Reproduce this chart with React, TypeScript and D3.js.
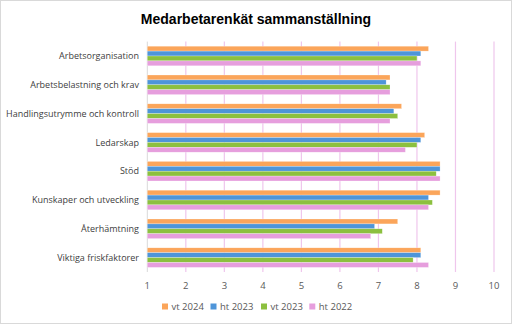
import React from "react";
import * as d3 from "d3";

const categories = [
  "Arbetsorganisation",
  "Arbetsbelastning och krav",
  "Handlingsutrymme och kontroll",
  "Ledarskap",
  "Stöd",
  "Kunskaper och utveckling",
  "Återhämtning",
  "Viktiga friskfaktorer",
];
const seriesNames = ["vt 2024", "ht 2023", "vt 2023", "ht 2022"];
const vt2024 = [8.3, 7.3, 7.6, 8.2, 8.6, 8.6, 7.5, 8.1];
const ht2023 = [8.1, 7.2, 7.4, 8.1, 8.6, 8.3, 6.9, 8.1];
const vt2023 = [8.0, 7.3, 7.5, 8.0, 8.5, 8.4, 7.1, 7.9];
const ht2022 = [8.1, 7.3, 7.3, 7.7, 8.6, 8.3, 6.8, 8.3];
const seriesValues = [vt2024, ht2023, vt2023, ht2022];
const xTicks = [1, 2, 3, 4, 5, 6, 7, 8, 9, 10];
const colors = ["#FBA55A", "#4E95D9", "#8CC03F", "#E69EDD"];

export default function App() {
  const W = 512;
  const H = 325;
  const left = 147.3;
  const right = 494;
  const top = 41.6;
  const bottom = 272;
  const x = d3.scaleLinear().domain([1, 10]).range([left, right]);
  const y = d3.scaleBand<string>().domain(categories).range([top, bottom]).paddingInner(0.32).paddingOuter(0.16);
  const inner = d3.scaleBand<string>().domain(seriesNames).range([0, y.bandwidth()]);
  const font = "'Open Sans', 'DejaVu Sans', sans-serif";

  const legendX = [165, 213.5, 264, 312.3];

  return (
    <svg width={W} height={H} style={{ position: "absolute", left: 0, top: 0, background: "#fff" }} fontFamily={font}>
      <rect x={0.5} y={0.5} width={W - 1} height={H - 2} fill="#fff" stroke="#d9d9d9" strokeWidth={1} />
      <text x={256} y={24} textAnchor="middle" fontSize={14} fontWeight="bold" fill="#000" fontFamily="'Liberation Sans', Arial, sans-serif">
        Medarbetarenkät sammanställning
      </text>
      {xTicks.filter((t) => t > 1).map((t) => (
        <line key={t} x1={x(t)} x2={x(t)} y1={top} y2={bottom} stroke="#EFC6EC" strokeWidth={1.2} />
      ))}
      <line x1={x(1)} x2={x(1)} y1={top} y2={bottom} stroke="#d9d9d9" strokeWidth={1} />
      {categories.map((c, ci) => (
        <g key={c}>
          {seriesNames.map((s, si) => (
            <rect
              key={s}
              x={x(1)}
              y={(y(c) as number) + (inner(s) as number)}
              width={x(seriesValues[si][ci]) - x(1)}
              height={inner.bandwidth()}
              fill={colors[si]}
              stroke="#ffffff"
              strokeOpacity={0.5}
              strokeWidth={0.5}
            />
          ))}
          <text
            x={139}
            y={(y(c) as number) + y.bandwidth() / 2}
            dy="0.35em"
            textAnchor="end"
            fontSize={9}
            fill="#404040"
          >
            {c}
          </text>
        </g>
      ))}
      {xTicks.map((t) => (
        <text key={t} x={x(t)} y={285.5} dy="0.35em" textAnchor="middle" fontSize={9.5} fill="#595959">
          {t}
        </text>
      ))}
      {seriesNames.map((s, i) => (
        <g key={s}>
          <rect x={legendX[i] - 3} y={303.5} width={6} height={6} fill={colors[i]} />
          <text x={legendX[i] + 6.5} y={306.7} dy="0.35em" fontSize={9.5} fill="#595959">
            {s}
          </text>
        </g>
      ))}
    </svg>
  );
}
